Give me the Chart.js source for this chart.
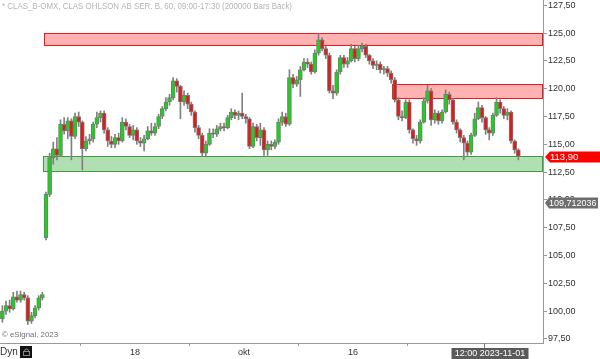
<!DOCTYPE html>
<html>
<head>
<meta charset="utf-8">
<script src="https://cdn.jsdelivr.net/npm/chart.js@4.4.0/dist/chart.umd.min.js"></script>
<style>
  html, body { margin: 0; padding: 0; background: #fff; }
  #wrap { width: 600px; height: 359px; }
</style>
</head>
<body>
<div id="wrap"><canvas id="chart" width="600" height="359"></canvas></div>
<script>
// CLAS_B hourly-ish candles, 3 bars per trading day (day 0 = 31 aug)
const firstBarDay = -1 + 5 / 6;
const barsPerDay = 3;

const openP = [
  99.3, 100.0, 100.5, 100.2, 101.3, 101.0, 101.5, 101.2, 99.1, 99.6,
  100.3, 101.2, 106.6, 110.5, 113.8, 114.6, 114.0, 116.8, 116.2, 117.1,
  115.7, 117.5, 117.0, 114.6, 115.3, 115.5, 116.8, 117.4, 117.8, 116.3,
  115.3, 115.0, 115.6, 115.3, 117.0, 116.6, 115.8, 116.3, 115.3, 115.1,
  115.5, 116.2, 116.0, 116.6, 117.5, 118.2, 118.8, 119.2, 120.7, 120.2,
  118.8, 119.4, 118.6, 117.9, 116.5, 115.8, 114.2, 115.0, 116.0, 115.9,
  116.4, 116.6, 116.5, 117.4, 117.9, 117.6, 117.8, 117.5, 117.3, 114.8,
  116.6, 115.6, 116.3, 114.5, 115.0, 114.8, 115.2, 117.0, 117.5, 116.8,
  121.0, 120.4, 120.8, 121.7, 122.4, 122.2, 121.5, 123.2, 124.4, 123.6,
  123.0, 119.8, 119.6, 121.5, 122.8, 122.2, 122.5, 123.6, 122.7, 123.6,
  123.8, 123.0, 122.5, 122.1, 122.2, 121.7, 121.8, 121.4, 120.8, 119.0,
  117.5, 117.4, 118.8, 116.3, 115.5, 115.3, 117.0, 118.9, 119.8, 117.2,
  117.8, 117.1, 117.9, 119.5, 119.0, 117.0, 116.3, 115.6, 115.1, 114.3,
  115.8, 117.3, 118.3, 117.4, 116.3, 116.0, 117.6, 118.8, 118.2, 117.6,
  117.9, 115.3, 114.5
];
const highP = [
  100.5, 100.9, 101.0, 101.7, 101.8, 101.8, 101.7, 101.4, 99.9, 100.5,
  101.4, 101.7, 110.7, 114.2, 115.2, 115.6, 117.2, 117.4, 117.4, 117.3,
  117.8, 117.9, 117.1, 115.7, 115.9, 117.0, 117.9, 118.0, 118.0, 116.5,
  115.7, 115.9, 116.0, 117.4, 117.3, 116.8, 116.7, 116.5, 115.6, 115.8,
  116.6, 116.9, 116.9, 117.7, 118.4, 119.2, 119.5, 121.0, 120.9, 120.3,
  119.8, 119.6, 118.8, 118.0, 116.7, 116.0, 115.3, 116.4, 116.4, 116.7,
  116.9, 116.9, 117.6, 118.2, 118.1, 118.0, 119.6, 117.7, 117.4, 116.9,
  116.8, 116.9, 116.5, 115.3, 115.3, 115.4, 117.3, 117.9, 117.8, 121.7,
  121.3, 121.1, 122.0, 122.7, 122.7, 122.4, 123.5, 125.0, 124.6, 123.8,
  123.2, 120.3, 121.7, 123.0, 123.0, 122.8, 124.0, 123.8, 123.9, 124.1,
  124.0, 123.1, 122.7, 122.5, 122.4, 122.0, 122.0, 121.6, 121.0, 119.2,
  118.0, 119.0, 119.0, 116.4, 115.8, 117.2, 119.2, 120.3, 120.0, 118.1,
  118.0, 118.1, 119.9, 119.7, 119.1, 117.2, 116.4, 115.8, 115.3, 116.0,
  117.8, 118.8, 118.5, 117.5, 116.5, 117.8, 119.2, 119.0, 118.4, 118.2,
  118.0, 115.4, 114.6
];
const lowP = [
  99.0, 99.7, 99.9, 100.1, 100.8, 100.8, 101.0, 98.8, 98.9, 99.4,
  100.1, 101.0, 106.4, 110.3, 113.2, 113.6, 113.9, 115.9, 115.5, 113.6,
  115.5, 116.6, 112.7, 114.4, 115.0, 115.2, 116.5, 117.0, 116.0, 114.8,
  114.7, 114.7, 115.0, 115.2, 116.3, 115.6, 115.4, 115.0, 114.8, 114.4,
  115.4, 115.8, 115.8, 116.4, 117.3, 118.0, 118.5, 119.0, 119.7, 117.3,
  118.5, 118.2, 117.6, 116.1, 115.5, 113.9, 113.9, 114.9, 115.6, 115.7,
  116.2, 116.2, 116.4, 117.2, 117.3, 117.2, 117.3, 116.9, 114.6, 114.7,
  115.3, 114.9, 114.0, 114.0, 114.5, 114.6, 115.0, 116.7, 116.6, 116.7,
  120.1, 120.2, 119.3, 121.6, 121.9, 121.3, 121.4, 123.0, 123.4, 122.7,
  119.6, 119.1, 119.4, 121.3, 121.9, 121.9, 122.4, 122.4, 122.5, 123.3,
  122.8, 122.2, 121.8, 121.7, 121.4, 121.3, 121.1, 120.5, 118.8, 117.2,
  117.1, 117.3, 116.0, 115.1, 114.9, 115.1, 116.9, 118.7, 116.7, 116.9,
  116.8, 116.9, 117.8, 118.6, 116.8, 116.0, 115.2, 113.6, 114.0, 114.1,
  115.7, 117.2, 117.0, 115.9, 115.4, 115.8, 117.5, 117.8, 117.3, 117.2,
  115.1, 114.2, 113.6
];
const closeP = [
  100.0, 100.5, 100.2, 101.3, 101.0, 101.5, 101.2, 99.1, 99.6, 100.3,
  101.2, 101.5, 110.5, 113.8, 114.6, 114.0, 116.8, 116.2, 117.1, 115.7,
  117.5, 117.0, 114.6, 115.3, 115.5, 116.8, 117.4, 117.8, 116.3, 115.3,
  115.0, 115.6, 115.3, 117.0, 116.6, 115.8, 116.3, 115.3, 115.1, 115.5,
  116.2, 116.0, 116.6, 117.5, 118.2, 118.8, 119.2, 120.7, 120.2, 118.8,
  119.4, 118.6, 117.9, 116.5, 115.8, 114.2, 115.0, 116.0, 115.9, 116.4,
  116.6, 116.5, 117.4, 117.9, 117.6, 117.8, 117.5, 117.3, 114.8, 116.6,
  115.6, 116.3, 114.5, 115.0, 114.8, 115.2, 117.0, 117.5, 116.8, 121.0,
  120.4, 120.8, 121.7, 122.4, 122.2, 121.5, 123.2, 124.4, 123.6, 123.0,
  119.8, 119.6, 121.5, 122.8, 122.2, 122.5, 123.6, 122.7, 123.6, 123.8,
  123.0, 122.5, 122.1, 122.2, 121.7, 121.8, 121.4, 120.8, 119.0, 117.5,
  117.4, 118.8, 116.3, 115.5, 115.3, 117.0, 118.9, 119.8, 117.2, 117.8,
  117.1, 117.9, 119.5, 119.0, 117.0, 116.3, 115.6, 115.1, 114.3, 115.8,
  117.3, 118.3, 117.4, 116.3, 116.0, 117.6, 118.8, 118.2, 117.6, 117.9,
  115.3, 114.5, 113.9
];

// support / resistance boxes (trading-day start, price top, price bottom)
const zoneFrom = [3.65, 35.58, 3.56];
const zoneTop = [125.0, 120.38, 113.95];
const zoneBottom = [123.95, 119.12, 112.57];
const zoneIsSupport = [false, false, true];

const xTickDays = [12, 22, 32];
const xTickLabels = ["18", "okt", "16"];
const yTicks = [97.5, 100, 102.5, 105, 107.5, 110, 112.5, 115, 117.5, 120, 122.5, 125, 127.5];

const lastPrice = 113.9;
const markerValue = 109.712036;
const cursorDay = 44.02;
const cursorText = "12:00 2023-11-01";
const titleText = "* CLAS_B-OMX, CLAS OHLSON AB SER. B, 60, 09:00-17:30 (200000 Bars Back)";

const fmt = (v) => v.toFixed(2).replace(".", ",");
const FONT = "'Liberation Sans', Arial, sans-serif";

const wickData = highP.map((h, i) => ({ x: firstBarDay + i / barsPerDay, y: [lowP[i], h] }));
const bodyData = openP.map((o, i) => ({ x: firstBarDay + i / barsPerDay, y: [o, closeP[i]] }));
const bodyColors = openP.map((o, i) => (closeP[i] >= o ? "#19d219" : "#e01b1b"));

const overlay = {
  id: "overlay",
  beforeDatasetsDraw(chart) {
    const { ctx, chartArea } = chart;
    const x = chart.scales.x, y = chart.scales.y;
    ctx.save();
    zoneFrom.forEach((from, i) => {
      const left = Math.round(x.getPixelForValue(from)) + 0.5;
      const top = Math.round(y.getPixelForValue(zoneTop[i])) + 0.5;
      const bot = Math.round(y.getPixelForValue(zoneBottom[i])) + 0.5;
      const right = chartArea.right - 0.5;
      ctx.fillStyle = zoneIsSupport[i] ? "rgba(0,150,0,0.3)" : "rgba(255,0,0,0.3)";
      ctx.fillRect(left, top, right - left, bot - top);
      ctx.strokeStyle = zoneIsSupport[i] ? "#3c9f3c" : "#f01818";
      ctx.lineWidth = 1;
      ctx.strokeRect(left, top, right - left, bot - top);
    });
    ctx.restore();
  },
  afterDraw(chart) {
    const { ctx, chartArea } = chart;
    const x = chart.scales.x, y = chart.scales.y;
    ctx.save();

    // title
    ctx.font = "9px " + FONT;
    ctx.fillStyle = "#b4b4b4";
    ctx.textBaseline = "middle";
    ctx.textAlign = "left";
    ctx.fillText(titleText, 2, 6.5, 290);

    // copyright
    ctx.font = "8px " + FONT;
    ctx.fillStyle = "#707070";
    ctx.fillText("\u00a9 eSignal, 2023", 2, 335, 56);

    // Dyn + lock
    ctx.font = "10px " + FONT;
    ctx.fillStyle = "#333";
    ctx.fillText("Dyn", 0, 352.5);
    ctx.fillStyle = "#111";
    ctx.fillRect(20, 346, 12, 12);
    ctx.strokeStyle = "#888";
    ctx.lineWidth = 1;
    ctx.strokeRect(23.5, 351.5, 6, 4);
    ctx.beginPath();
    ctx.arc(26.5, 351, 2, Math.PI, 0);
    ctx.stroke();

    // last price tag
    const ly = Math.round(y.getPixelForValue(lastPrice));
    const ax = chartArea.right + 2;
    ctx.fillStyle = "#ff0000";
    ctx.beginPath();
    ctx.moveTo(ax, ly);
    ctx.lineTo(ax + 5, ly - 5.5);
    ctx.lineTo(600, ly - 5.5);
    ctx.lineTo(600, ly + 5.5);
    ctx.lineTo(ax + 5, ly + 5.5);
    ctx.closePath();
    ctx.fill();
    ctx.font = "9.5px " + FONT;
    ctx.fillStyle = "#fff";
    ctx.fillText(fmt(lastPrice), ax + 5, ly + 0.5);

    // grey marker tag
    const my = Math.round(y.getPixelForValue(markerValue));
    ctx.fillStyle = "#6e6e6e";
    ctx.beginPath();
    ctx.moveTo(ax, my);
    ctx.lineTo(ax + 4, my - 5.5);
    ctx.lineTo(598, my - 5.5);
    ctx.lineTo(598, my + 5.5);
    ctx.lineTo(ax + 4, my + 5.5);
    ctx.closePath();
    ctx.fill();
    ctx.fillStyle = "#fff";
    ctx.font = "9px " + FONT;
    ctx.fillText(String(markerValue).replace(".", ","), ax + 4, my + 0.5, 50);

    // cursor time tag
    const cx = Math.round(x.getPixelForValue(cursorDay)) + 0.5;
    ctx.strokeStyle = "#777";
    ctx.beginPath();
    ctx.moveTo(cx, chartArea.bottom);
    ctx.lineTo(cx, chartArea.bottom + 6);
    ctx.stroke();
    ctx.fillStyle = "#5a5a5a";
    ctx.fillRect(cx - 33, chartArea.bottom + 5, 77, 11);
    ctx.fillStyle = "#fff";
    ctx.font = "9px " + FONT;
    ctx.textAlign = "center";
    ctx.fillText(cursorText, cx + 5.5, chartArea.bottom + 11);
    ctx.restore();
  }
};

new Chart(document.getElementById("chart"), {
  type: "bar",
  data: {
    datasets: [
      {
        data: wickData,
        backgroundColor: "#808080",
        barThickness: 1,
        order: 2
      },
      {
        data: bodyData,
        backgroundColor: bodyColors,
        borderColor: "#7a7a7a",
        borderWidth: 1,
        borderSkipped: false,
        barThickness: 4,
        order: 1
      }
    ]
  },
  options: {
    responsive: false,
    animation: false,
    events: [],
    layout: { padding: 0 },
    datasets: { bar: { grouped: false } },
    plugins: { legend: { display: false }, tooltip: { enabled: false } },
    scales: {
      x: {
        type: "linear",
        min: -0.385,
        max: 49.43,
        offset: false,
        afterBuildTicks: (s) => { s.ticks = xTickDays.map((v) => ({ value: v })); },
        afterFit: (s) => { s.height = 16; s.paddingLeft = 0; s.paddingRight = 0; },
        ticks: {
          callback: (v, i) => xTickLabels[i],
          color: "#333",
          font: { size: 9, family: FONT },
          maxRotation: 0,
          autoSkip: false,
          padding: 1
        },
        grid: { drawOnChartArea: false, tickLength: 3, color: "#999" },
        border: { color: "#999" }
      },
      y: {
        position: "right",
        min: 97.14,
        max: 127.97,
        afterBuildTicks: (s) => { s.ticks = yTicks.map((v) => ({ value: v })); },
        afterFit: (s) => { s.width = 57; s.paddingTop = 0; s.paddingBottom = 0; },
        ticks: {
          callback: (v) => fmt(v),
          color: "#333",
          font: { size: 9, family: FONT },
          padding: 1
        },
        grid: { drawOnChartArea: false, tickLength: 4, color: "#999" },
        border: { color: "#999" }
      }
    }
  },
  plugins: [overlay]
});
</script>
</body>
</html>
